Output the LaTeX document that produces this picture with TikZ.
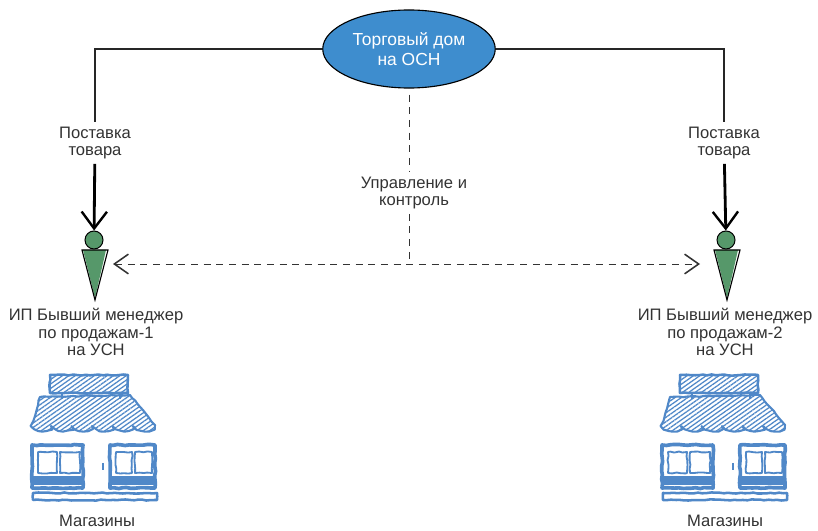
\documentclass[tikz,border=0pt]{standalone}
\usepackage{fontspec}
\setmainfont{Liberation Sans}
\usetikzlibrary{arrows.meta,positioning,shapes.geometric,patterns.meta,decorations.pathmorphing}
\definecolor{osnblue}{RGB}{62,141,206}
\definecolor{ipgreen}{RGB}{86,152,106}
\definecolor{shopblue}{RGB}{80,136,200}

\tikzset{
    lbl/.style={font=\fontsize{11.8}{12.6}\selectfont, text=black!80, align=center, inner sep=3pt},
    feed/.style={line width=1.3pt, black!85},
    supply/.style={line width=2pt, black, -{Straight Barb[length=12pt,width=18pt,line width=1.7pt]}},
    ctrl/.style={line width=0.6pt, black!80, dash pattern=on 5pt off 4pt},
    ctrltip/.style={{Straight Barb[length=10pt,width=14pt,line width=1.1pt]}-{Straight Barb[length=10pt,width=14pt,line width=1.1pt]}},
    sketch/.style={draw=shopblue, line join=round, decorate,
        decoration={random steps, segment length=3pt, amplitude=0.4pt}},
    hatch/.style={pattern={Lines[angle=35, distance=2.6pt, line width=0.9pt]}, pattern color=shopblue},
    pics/ip/.style={code={
        \fill[ipgreen] (-11,10) -- (12,10) -- (1,58) -- cycle;
        \draw[line width=0.8pt] (-12,10) -- (14,10) -- (1,60) -- cycle;
    }},
    pics/shop/.style={code={
        % sign and posts
        \draw[sketch, line width=1.8pt, hatch] (18,3) rectangle (96,21);
        \draw[sketch, line width=1.5pt] (30,21) -- (30,27) (88,21) -- (88,27);
        % awning
        \draw[sketch, line width=1.5pt, hatch]
            (8,25) -- (98,23) -- (123,53)
            arc[start angle=0, end angle=180, x radius=10.25, y radius=6]
            arc[start angle=0, end angle=180, x radius=10.25, y radius=6]
            arc[start angle=0, end angle=180, x radius=10.25, y radius=6]
            arc[start angle=0, end angle=180, x radius=10.25, y radius=6]
            arc[start angle=0, end angle=180, x radius=10.25, y radius=6]
            arc[start angle=0, end angle=180, x radius=10.25, y radius=6]
            -- cycle;
        % window blocks
        \draw[sketch, line width=2.6pt] (0,73) rectangle (51,116);
        \draw[sketch, line width=1.3pt] (6,80) rectangle (25,101) (28,80) rectangle (48,101);
        \fill[shopblue] (0,104) rectangle (51,113);
        \draw[sketch, line width=2.6pt] (78,73) rectangle (123,116);
        \draw[sketch, line width=1.3pt] (84,80) rectangle (100,101) (103,80) rectangle (120,101);
        \fill[shopblue] (78,104) rectangle (123,113);
        % door handle and ground
        \draw[shopblue, line width=1.8pt] (71,91) -- (71,98);
        \draw[sketch, line width=1.8pt] (1,121) rectangle (125,128);
    }}
}

\begin{document}
\begin{tikzpicture}[x=0.025cm, y=-0.025cm]
    \useasboundingbox (0,0) rectangle (818,531);

    % trading house
    \node[ellipse, draw, line width=0.8pt, fill=osnblue, minimum width=4.3cm, minimum height=1.95cm,
          font=\fontsize{12.4}{14}\selectfont, text=white, align=center] (osn) at (409,49) {Торговый дом\\на ОСН};

    % labels
    \node[lbl] (sup1) at (95,143) {Поставка\\товара};
    \node[lbl] (sup2) at (724,143) {Поставка\\товара};
    \node[lbl] (mgmt) at (414,193) {Управление и\\контроль};
    \node[lbl] (ipname1) at (96,332) {ИП Бывший менеджер\\по продажам-1\\на УСН};
    \node[lbl] (ipname2) at (725,332) {ИП Бывший менеджер\\по продажам-2\\на УСН};
    \node[lbl] (shops1) at (97,521) {Магазины};
    \node[lbl] (shops2) at (725,521) {Магазины};

    % entrepreneurs
    \node[circle, draw, line width=0.7pt, fill=ipgreen, minimum size=0.45cm, inner sep=0pt] (head1) at (94,240) {};
    \node[circle, draw, line width=0.7pt, fill=ipgreen, minimum size=0.45cm, inner sep=0pt] (head2) at (726,240) {};
    \pic at (head1) {ip};
    \pic at (head2) {ip};

    % shops
    \pic at (32,372) {shop};
    \pic at (662,372) {shop};

    % supply lines
    \draw[feed] (osn.west) -| (sup1.north);
    \draw[feed] (osn.east) -| (sup2.north);
    \draw[supply] (sup1) -- (head1);
    \draw[supply] (sup2) -- (head2);

    % management and control
    \coordinate (ctl1) at (113,264);
    \coordinate (ctl2) at (700,264);
    \draw[ctrl, ctrltip] (ctl1) -- (ctl2);
    \draw[ctrl] ([yshift=-0.15cm]osn.south) -- (osn.south |- mgmt.north);
    \draw[ctrl] (osn.south |- mgmt.south) -- (osn.south |- ctl1);
\end{tikzpicture}
\end{document}
